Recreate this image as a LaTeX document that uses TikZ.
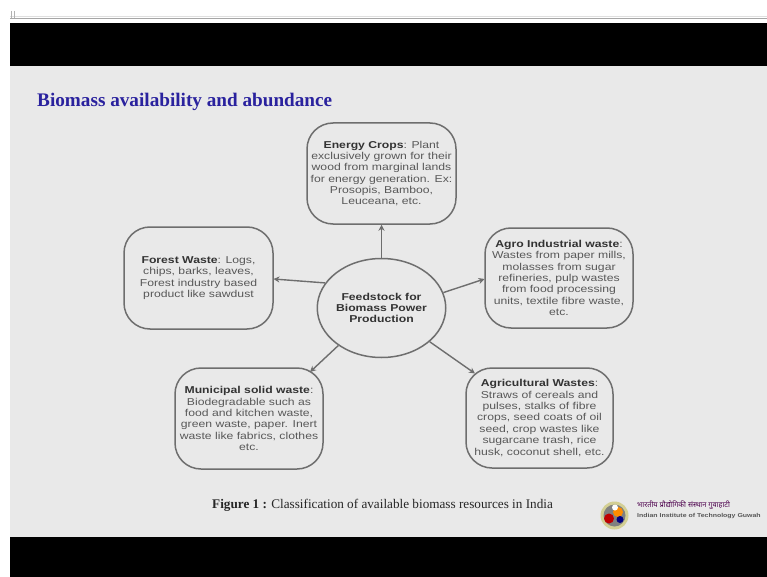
\documentclass[tikz,border=0pt]{standalone}
\usepackage{fontspec}
\setmainfont[FakeStretch=1.22]{Liberation Sans}
\newfontfamily\serifface{Liberation Serif}
\newfontfamily\hindiface[Script=Devanagari]{Noto Sans}
\usetikzlibrary{arrows.meta,shapes.geometric}
\definecolor{panel}{HTML}{E9E9E9}
\definecolor{edge}{HTML}{6E6E6E}
\definecolor{ink}{HTML}{585858}
\definecolor{inkbold}{HTML}{333333}
\definecolor{titleblue}{HTML}{2A229E}
\newcommand\hd[1]{\textcolor{inkbold}{\textbf{#1}}}
\tikzset{
  box/.style={draw=edge,line width=1.5pt,rounded corners=26pt,inner sep=0pt,align=center,
    text=ink,font=\fontsize{10}{11.35}\selectfont},
  hub/.style={ellipse,draw=edge,line width=1.5pt,inner sep=0pt,align=center,text=inkbold,
    font=\fontsize{10}{11.35}\selectfont\bfseries,minimum width=127pt,minimum height=99pt},
  link/.style={draw=edge,line width=1.4pt,-{Stealth[length=6pt,width=6pt]}},
  band/.style={fill=black,draw=none},
}
\begin{document}
\begin{tikzpicture}[x=1pt,y=-1pt]
\useasboundingbox (0,0) rectangle (767,577);
\fill[white] (0,0) rectangle (767,577);
\fill[panel] (10,66) rectangle (767,537);
\draw[gray!70,line width=1pt] (10,19) -- (767,19);
\draw[gray!25,line width=0.8pt] (10,16) -- (767,16);
\draw[gray!60,line width=0.6pt] (11,11) -- (11,18);
\draw[gray!60,line width=0.6pt] (14,11) -- (14,18);
\fill[band] (10,23) rectangle (767,66);
\fill[band] (10,537) rectangle (767,577);
\node[anchor=base west,inner sep=0pt,text=titleblue,font=\serifface\bfseries\fontsize{19.2}{21}\selectfont] (title) at (37,107) {Biomass availability and abundance};
\node[hub] (hub) at (381.5,308) {Feedstock for\\Biomass Power\\Production};
\node[box,minimum width=149pt,minimum height=101pt] (energy) at (381.5,173.5) {\hd{Energy Crops}: Plant\\exclusively grown for their\\wood from marginal lands\\for energy generation. Ex:\\Prosopis, Bamboo,\\Leuceana, etc.};
\node[box,minimum width=149pt,minimum height=102pt] (forest) at (198.5,278) {\hd{Forest Waste}: Logs,\\chips, barks, leaves,\\Forest industry based\\product like sawdust};
\node[box,minimum width=148pt,minimum height=100pt] (agro) at (559,278) {\hd{Agro Industrial waste}:\\Wastes from paper mills,\\molasses from sugar\\refineries, pulp wastes\\from food processing\\units, textile fibre waste,\\etc.};
\node[box,minimum width=148pt,minimum height=101pt] (muni) at (249,418.5) {\hd{Municipal solid waste}:\\Biodegradable such as\\food and kitchen waste,\\green waste, paper. Inert\\waste like fabrics, clothes\\etc.};
\node[box,minimum width=147pt,minimum height=100pt] (agri) at (539.5,418) {\hd{Agricultural Wastes}:\\Straws of cereals and\\pulses, stalks of fibre\\crops, seed coats of oil\\seed, crop wastes like\\sugarcane trash, rice\\husk, coconut shell, etc.};
\coordinate (munitip) at (310,372);
\coordinate (agritip) at (475,373.5);
\coordinate (forestend) at (273.5,279);
\coordinate (agroend) at (484.5,279);
\draw[link] (hub.north) -- (energy.south);
\draw[link] (hub.156) -- (forestend);
\draw[link] (hub.14) -- (agroend);
\draw[link] (hub.221) -- (munitip);
\draw[link] (hub.325) -- (agritip);
\node[anchor=base west,inner sep=0pt,text=black!85,font=\serifface\fontsize{13.2}{16}\selectfont] (caption) at (212,508) {\textbf{Figure 1 :} Classification of available biomass resources in India};
% logo
\fill[yellow!35!panel!85!black] (614.5,515.5) circle (14);
\fill[black!45!panel] (614.5,515.5) circle (11);
\fill[orange!90!yellow] (618,512) circle (5);
\fill[red!75!black] (609,518.5) circle (5);
\fill[blue!50!black] (620,519.5) circle (3.5);
\fill[white!90!panel] (615,507.5) circle (3);
\node[anchor=base west,inner sep=0pt,text=violet!60!black,font=\hindiface\fontsize{7.4}{8}\selectfont] (hindi) at (637,507.5) {भारतीय प्रौद्योगिकी संस्थान गुवाहाटी};
\node[anchor=base west,inner sep=0pt,text=ink,font=\bfseries\fontsize{5.7}{7}\selectfont] (iit) at (637,517.5) {Indian Institute of Technology Guwah};
\end{tikzpicture}
\end{document}
